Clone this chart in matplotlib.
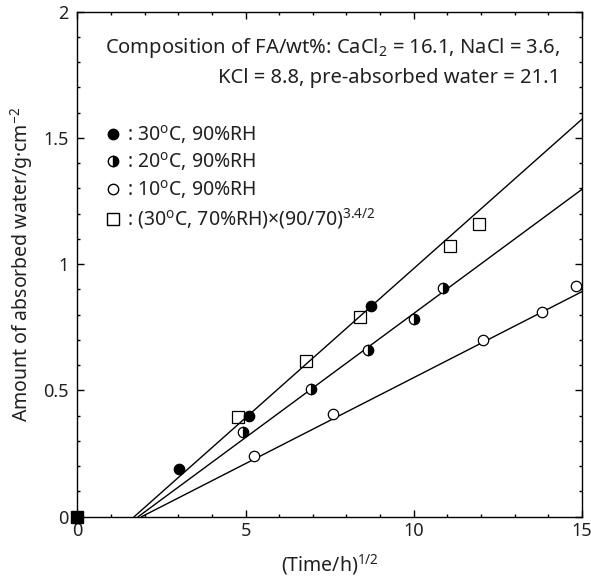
import numpy as np
import matplotlib
matplotlib.use("Agg")
import matplotlib.pyplot as plt
from matplotlib import ticker
from matplotlib.lines import Line2D

plt.rcParams['font.family'] = ['Noto Sans', 'DejaVu Sans']
plt.rcParams['mathtext.fontset'] = 'custom'
plt.rcParams['mathtext.rm'] = 'Noto Sans'
TXT = '#231f20'

# (Time/h)^1/2 and absorbed water
x30 = [3.02, 5.10, 8.72]
y30 = [0.189, 0.399, 0.835]
x20 = [4.92, 6.94, 8.64, 10.0, 10.86]
y20 = [0.335, 0.505, 0.660, 0.783, 0.906]
x10 = [5.24, 7.60, 12.05, 13.8, 14.81]
y10 = [0.240, 0.407, 0.700, 0.811, 0.914]
x70 = [4.79, 6.79, 8.40, 11.09, 11.93]
y70 = [0.396, 0.617, 0.790, 1.073, 1.159]

# fitted lines: x-intercept and slope (30, 20, 10 degC)
x0_fit = [1.69, 1.81, 1.91]
slope_fit = [0.1183, 0.0983, 0.0681]
x_end = 15

labels = [': 30$^{\\mathrm{o}}$C, 90%RH',
          ': 20$^{\\mathrm{o}}$C, 90%RH',
          ': 10$^{\\mathrm{o}}$C, 90%RH',
          ': (30$^{\\mathrm{o}}$C, 70%RH)\u00d7(90/70)$^{3.4/2}$']

fig = plt.figure(figsize=(5.91, 5.85), dpi=100)
ax = fig.add_axes([0.1308, 0.1167, 0.8540, 0.8633])

for x0, k in zip(x0_fit, slope_fit):
    xs = np.array([x0, x_end])
    ax.plot(xs, k * (xs - x0), color='black', lw=1.0, zorder=2)

ms = 7.5
ax.plot(x30, y30, 'o', ms=ms, mfc='black', mec='black', mew=0.9, zorder=3)
ax.plot(x20, y20, 'o', ms=ms, fillstyle='right', mfc='black', mfcalt='white',
        mec='black', mew=0.9, zorder=3)
ax.plot(x10, y10, 'o', ms=ms, mfc='white', mec='black', mew=0.9, zorder=3)
ax.plot(x70, y70, 's', ms=8.5, mfc='none', mec='black', mew=0.9, zorder=3)
ax.plot([0], [0], 's', ms=8, color='black', clip_on=False, zorder=5)

ax.set_xlim(0, 15)
ax.set_ylim(0, 2)
ax.xaxis.set_major_locator(ticker.MultipleLocator(5))
ax.xaxis.set_minor_locator(ticker.MultipleLocator(1))
ax.yaxis.set_major_locator(ticker.MultipleLocator(0.5))
ax.yaxis.set_minor_locator(ticker.MultipleLocator(0.1))
ax.yaxis.set_major_formatter(ticker.FormatStrFormatter('%g'))
ax.tick_params(which='both', direction='in', top=True, right=True,
               labelsize=13, labelcolor=TXT, width=1.0)
ax.tick_params(which='major', length=5)
ax.tick_params(which='minor', length=2.5)
ax.tick_params(axis='y', which='major', pad=6)
for s in ax.spines.values():
    s.set_linewidth(1.0)

ax.set_xlabel('(Time/h)$^{1/2}$', fontsize=14, color=TXT, labelpad=9)
ax.set_ylabel('Amount of absorbed water/g\u00b7cm$^{-2}$', fontsize=14,
              color=TXT, labelpad=6)

ax.text(0.956, 0.928, 'Composition of FA/wt%: CaCl$_2$ = 16.1, NaCl = 3.6,',
        transform=ax.transAxes, ha='right', va='center', fontsize=14.5, color=TXT)
ax.text(0.956, 0.869, 'KCl = 8.8, pre-absorbed water = 21.1',
        transform=ax.transAxes, ha='right', va='center', fontsize=14.5, color=TXT)

handles = [
    Line2D([], [], ls='none', marker='o', ms=ms, mfc='black', mec='black'),
    Line2D([], [], ls='none', marker='o', ms=ms, fillstyle='right', mfc='black',
           mfcalt='white', mec='black'),
    Line2D([], [], ls='none', marker='o', ms=ms, mfc='white', mec='black'),
    Line2D([], [], ls='none', marker='s', ms=8.5, mfc='none', mec='black'),
]
leg = ax.legend(handles, labels, loc='upper left', bbox_to_anchor=(0.02, 0.815),
                frameon=False, fontsize=14, handlelength=0.8, handletextpad=0.35,
                labelspacing=0.25, borderaxespad=0.5, borderpad=0.4)
for t in leg.get_texts():
    t.set_color(TXT)

fig.savefig('out.png', dpi=100)
